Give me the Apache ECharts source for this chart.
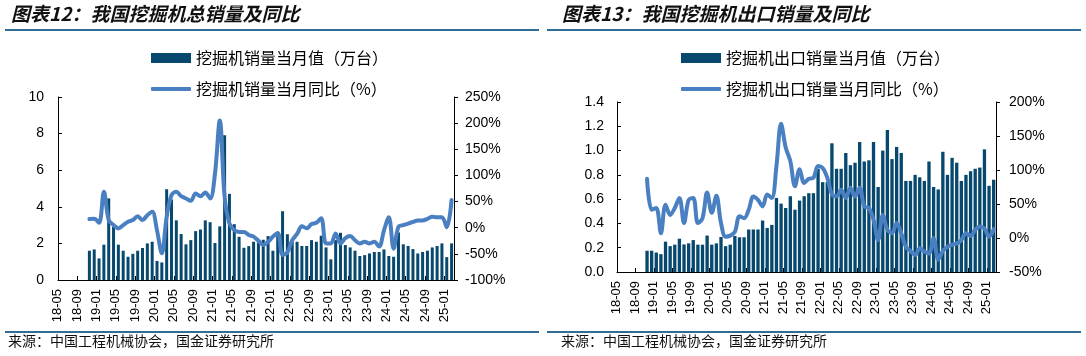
<!DOCTYPE html>
<html><head><meta charset="utf-8">
<script src="https://cdn.jsdelivr.net/npm/echarts@6.0.0/dist/echarts.min.js"></script>
<style>html,body{margin:0;padding:0;background:#fff}#c{width:1086px;height:356px}</style>
</head><body><div id="c"></div>
<script>
const categories = ['18-05','18-06','18-07','18-08','18-09','18-10','18-11','18-12',
'19-01','19-02','19-03','19-04','19-05','19-06','19-07','19-08','19-09','19-10','19-11','19-12',
'20-01','20-02','20-03','20-04','20-05','20-06','20-07','20-08','20-09','20-10','20-11','20-12',
'21-01','21-02','21-03','21-04','21-05','21-06','21-07','21-08','21-09','21-10','21-11','21-12',
'22-01','22-02','22-03','22-04','22-05','22-06','22-07','22-08','22-09','22-10','22-11','22-12',
'23-01','23-02','23-03','23-04','23-05','23-06','23-07','23-08','23-09','23-10','23-11','23-12',
'24-01','24-02','24-03','24-04','24-05','24-06','24-07','24-08','24-09','24-10','24-11','24-12',
'25-01','25-02'];

// 挖掘机销量当月值（万台）
const totalSales = [null,null,null,null,null,null,
1.6,1.67,1.18,1.93,4.46,2.91,1.93,1.6,1.27,1.43,1.6,1.75,2.0,2.09,
1.04,0.96,4.96,4.4,3.26,2.51,1.95,2.18,2.67,2.76,3.26,3.16,
2.02,2.93,7.91,4.71,3.05,2.36,1.76,1.85,2.09,2.05,2.2,2.4,
1.6,2.45,3.76,2.5,2.1,2.09,1.86,1.86,2.18,2.09,2.42,1.78,
1.13,2.18,2.58,1.91,1.78,1.6,1.31,1.36,1.45,1.53,1.53,1.67,
1.31,1.27,2.6,1.95,1.86,1.69,1.45,1.53,1.6,1.78,1.86,2.0,
1.25,2.0];
// 挖掘机销量当月同比（%）
const totalYoY = [null,null,null,null,null,null,
16.5,17,9.5,68.7,14.6,5,-1.3,5,11.3,14.6,22,14.6,24,30.4,
-5,-49,21,62,68.7,60.3,56,51.4,65.5,60,67.4,56,
103,205,59,8,-4.5,-8,-8,-14,-17,-25,-33,-27,
-17,-10,-52,-47,-24,-12,3,-1,7,9.4,18,-30,
-30,-11,-30,-20,-16,-24,-30,-27,-30,-27,-36,-5,
20,-40,2,5,8,11,14,14,17,21,20,20,
1,53];
// 挖掘机出口销量当月值（万台）
const exportSales = [null,null,null,null,null,null,
0.175,0.175,0.16,0.147,0.25,0.213,0.225,0.274,0.227,0.236,0.263,0.225,0.225,0.3,
0.225,0.236,0.288,0.213,0.225,0.297,0.286,0.286,0.35,0.35,0.35,0.424,
0.363,0.388,0.61,0.563,0.527,0.624,0.513,0.588,0.624,0.649,0.649,0.85,
0.74,0.74,1.06,0.85,0.85,0.98,0.88,0.9,1.07,0.91,0.92,1.07,
0.7,1.0,1.17,0.93,1.03,0.98,0.75,0.75,0.8,0.78,0.75,0.91,
0.7,0.68,0.99,0.8,0.94,0.9,0.75,0.8,0.83,0.85,0.86,1.01,
0.71,0.76];
// 挖掘机出口销量当月同比（%）
const exportYoY = [null,null,null,null,null,null,
87,41.6,44,7,49,34,44,59,22,56,59,22,29,67,
37,62,22,2,3.5,9,32,29,41.6,61,56,46.5,
64,59,106,168,133,113,76,101,81,87,88.6,106,
103,88.6,64,61,71,59,74,61,74,46.5,44,27,
-3,34,12,7,22,7,-13,-19,-25,-15,-20,-22.8,
-0.5,-31.7,-19,-13,-10,-8,-3,7,3,12,17,14,
2,13];

const leftTitle = '图表12：我国挖掘机总销量及同比';
const rightTitle = '图表13：我国挖掘机出口销量及同比';
const sourceText = '来源：中国工程机械协会，国金证券研究所';
const names = ['挖掘机销量当月值（万台）','挖掘机销量当月同比（%）','挖掘机出口销量当月值（万台）','挖掘机出口销量当月同比（%）'];

const BAR = '#07486e', LINE = '#4a80c2', RULE = '#2f6c96';
const NUM = "'Liberation Sans', Arial, sans-serif";
const CJK = "'Noto Sans CJK SC', sans-serif";

function xAxis(g){
  return {gridIndex:g,type:'category',data:categories,boundaryGap:true,
    axisLine:{lineStyle:{color:'#000',width:1}},
    axisTick:{show:true,inside:true,interval:3,length:4,lineStyle:{color:'#000'}},
    axisLabel:{interval:3,rotate:90,fontSize:13,color:'#000',fontFamily:NUM,margin:9,verticalAlign:'bottom',lineHeight:5},
    splitLine:{show:false}};
}
function yAxis(g,pos,min,max,intv,fmt,inside,margin){
  return {gridIndex:g,type:'value',position:pos,min:min,max:max,interval:intv,
    axisLine:{show:true,lineStyle:{color:'#000',width:1}},
    axisTick:{show:true,inside:inside,length:4,lineStyle:{color:'#000'}},
    axisLabel:{formatter:fmt,fontSize:14,color:'#000',fontFamily:NUM,margin:margin},
    splitLine:{show:false}};
}
function legend(name,left,top,isLine){
  return {data:[{name:name,icon:isLine?'roundRect':'rect'}],left:left,top:top,
    itemWidth:40,itemHeight:isLine?4:10,itemGap:5,
    textStyle:{fontSize:16,fontFamily:CJK,color:'#000'}};
}

const chart = echarts.init(document.getElementById('c'));
chart.setOption({
  animation:false,
  backgroundColor:'#fff',
  grid:[{left:58,top:97,width:396,height:183},{left:617,top:102,width:379,height:170}],
  xAxis:[xAxis(0),xAxis(1)],
  yAxis:[
    yAxis(0,'left',0,10,2,'{value}',true,14),
    yAxis(0,'right',-100,250,50,'{value}%',false,11),
    yAxis(1,'left',0,1.4,0.2,v=>v.toFixed(1),true,13),
    yAxis(1,'right',-50,200,50,'{value}%',false,13)
  ],
  legend:[
    legend(names[0],146,45,false),legend(names[1],146,76,true),
    legend(names[2],676,45,false),legend(names[3],676,76,true)
  ],
  series:[
    {name:names[0],type:'bar',xAxisIndex:0,yAxisIndex:0,data:totalSales,barWidth:'62%',itemStyle:{color:BAR}},
    {name:names[1],type:'line',xAxisIndex:0,yAxisIndex:1,data:totalYoY,smooth:0.35,symbol:'none',
      lineStyle:{width:4,color:LINE,cap:'round',join:'round'},itemStyle:{color:LINE}},
    {name:names[2],type:'bar',xAxisIndex:1,yAxisIndex:2,data:exportSales,barWidth:'72%',itemStyle:{color:BAR}},
    {name:names[3],type:'line',xAxisIndex:1,yAxisIndex:3,data:exportYoY,smooth:0.35,symbol:'none',
      lineStyle:{width:4,color:LINE,cap:'round',join:'round'},itemStyle:{color:LINE}}
  ],
  graphic:[
    {type:'text',left:11,top:4,style:{text:leftTitle,font:"italic bold 19px "+CJK,fill:'#111'}},
    {type:'text',left:562,top:4,style:{text:rightTitle,font:"italic bold 19px "+CJK,fill:'#111'}},
    {type:'rect',shape:{x:5,y:29,width:534,height:2},style:{fill:RULE}},
    {type:'rect',shape:{x:547,y:29,width:534,height:2},style:{fill:RULE}},
    {type:'rect',shape:{x:5,y:331,width:534,height:2},style:{fill:RULE}},
    {type:'rect',shape:{x:547,y:331,width:534,height:2},style:{fill:RULE}},
    {type:'text',left:8,top:334,style:{text:sourceText,font:"14px "+CJK,fill:'#111'}},
    {type:'text',left:561,top:334,style:{text:sourceText,font:"14px "+CJK,fill:'#111'}}
  ]
});
</script></body></html>
